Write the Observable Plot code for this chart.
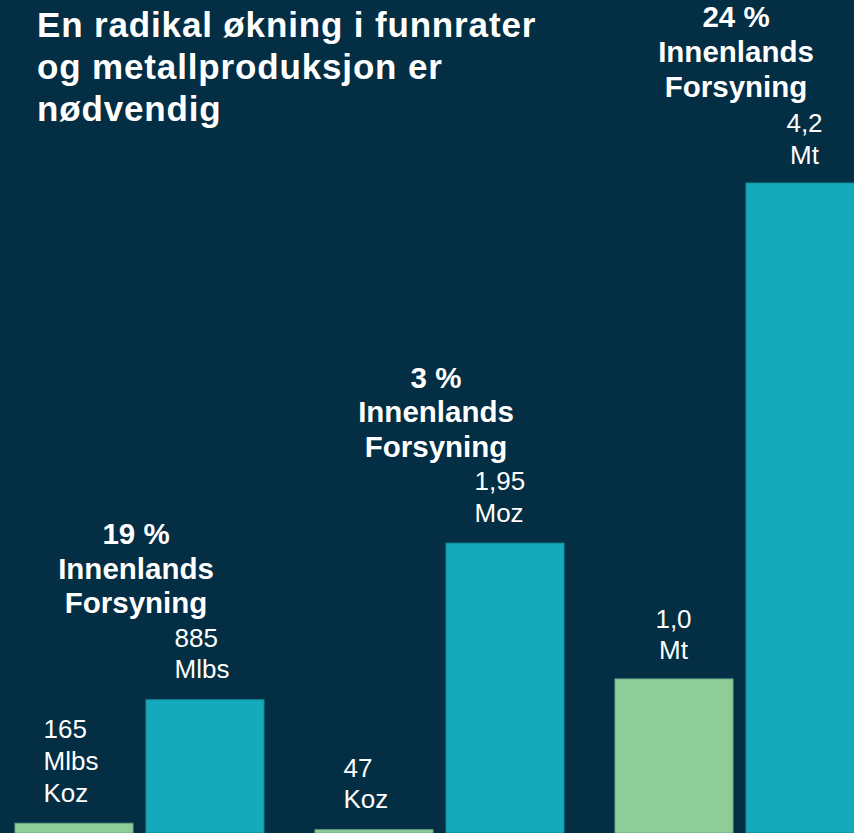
<!DOCTYPE html>
<html><head><meta charset="utf-8">
<script src="https://cdn.jsdelivr.net/npm/d3@7"></script>
<script src="https://cdn.jsdelivr.net/npm/@observablehq/plot@0.6"></script>
<style>
html,body{margin:0;padding:0;background:#032e43;overflow:hidden;}
#wrap{position:relative;width:854px;height:833px;overflow:hidden;}
#chart{position:absolute;left:0;top:0;}
#title{position:absolute;left:37px;top:4px;font-family:"Liberation Sans",Arial,sans-serif;font-weight:bold;font-size:35px;letter-spacing:0.85px;line-height:42px;color:#fff;z-index:2;}
</style></head><body>
<div id="wrap"><div id="chart"></div><div id="title">En radikal økning i funnrater<br>og metallproduksjon er<br>nødvendig</div></div>
<script>
const groups = ["Gruppe 1", "Gruppe 2", "Gruppe 3"];
const series = ["I dag", "Behov"];
// bar heights, as % of the tallest bar
const heightsToday = [1.5, 0.5, 23.7];
const heightsNeed = [20.5, 44.6, 100];
const labelsToday = ["165\nMlbs\nKoz", "47\nKoz", "1,0\nMt"];
const labelsNeed = ["885\nMlbs", "1,95\nMoz", "4,2\nMt"];
const shareLabels = ["19 %", "3 %", "24 %"];
const supplyLabel = "Innenlands\nForsyning";

const rows = [];
groups.forEach((g, i) => {
  rows.push({group: g, series: series[0], h: heightsToday[i], label: labelsToday[i]});
  rows.push({group: g, series: series[1], h: heightsNeed[i], label: labelsNeed[i]});
});
const groupRows = groups.map((g, i) => ({group: g, h: heightsNeed[i], text: shareLabels[i] + "\n" + supplyLabel}));

const font = '"Liberation Sans", Arial, sans-serif';
const chart = Plot.plot({
  width: 854, height: 833,
  marginTop: 183, marginBottom: 0, marginLeft: 15, marginRight: -11,
  style: {background: "transparent", fontFamily: font, maxWidth: "none", overflow: "visible"},
  fx: {domain: groups, paddingInner: 0.169, paddingOuter: 0, axis: null},
  x: {domain: series, paddingInner: 0.1, paddingOuter: 0, axis: null},
  y: {domain: [0, 100], axis: null},
  color: {domain: series, range: ["#8ecc98", "#15aabb"]},
  marks: [
    Plot.barY(rows, {fx: "group", x: "series", y: "h", fill: "series",
      stroke: d => d.series === series[0] ? "#6aa989" : "#12899b", strokeWidth: 1}),
    Plot.text(rows.filter(d => d.group !== groups[2]), {fx: "group", x: "series", y: "h", text: "label",
      textAnchor: "start", dx: -31, dy: -22, lineAnchor: "bottom", lineHeight: 1.22,
      fill: "white", fontSize: 26, fontFamily: font}),
    Plot.text(rows.filter(d => d.group === groups[2]), {fx: "group", x: "series", y: "h", text: "label",
      textAnchor: "middle", dx: -1, dy: -20, lineAnchor: "bottom", lineHeight: 1.22,
      fill: "white", fontSize: 26, fontFamily: font}),
    Plot.text(groupRows, {fx: "group", y: "h", text: "text", lineAnchor: "bottom", dx: -4, dy: -87,
      lineHeight: 1.17, fill: "white", fontSize: 29.5, fontWeight: "bold", fontFamily: font})
  ]
});
document.getElementById("chart").appendChild(chart);
</script>
</body></html>
